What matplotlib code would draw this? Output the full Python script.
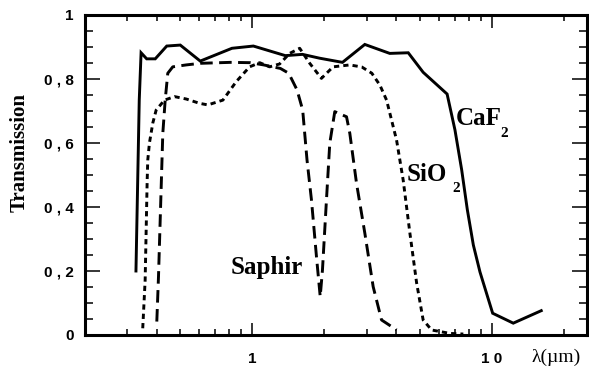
import matplotlib
matplotlib.use("Agg")
import matplotlib.pyplot as plt
from matplotlib.ticker import FixedLocator, NullFormatter, LogLocator, MultipleLocator

# ---- data (wavelength in µm, transmission) ----
caf2_wl = [0.3265, 0.337, 0.343, 0.362, 0.393, 0.439, 0.500, 0.606, 0.822, 1.01,
           1.374, 1.62, 1.91, 2.38, 2.95, 3.75, 4.48, 5.17, 6.51, 7.02, 7.49,
           7.91, 8.38, 8.93, 10.09, 12.3, 16.1]
caf2_t = [0.200, 0.734, 0.882, 0.863, 0.863, 0.903, 0.906, 0.856, 0.896, 0.903,
          0.873, 0.877, 0.865, 0.852, 0.908, 0.880, 0.882, 0.821, 0.753, 0.641, 0.516,
          0.391, 0.281, 0.197, 0.068, 0.037, 0.076]

sio2_wl = [0.3485, 0.3567, 0.3637, 0.3658, 0.3717, 0.3838, 0.3965, 0.4296, 0.473,
           0.5294, 0.6017, 0.652, 0.7534, 0.857, 0.974, 1.073, 1.181, 1.30, 1.432,
           1.577, 1.737, 1.944, 2.174, 2.553, 2.866, 3.156, 3.41, 3.637, 4.004,
           4.267, 4.55, 4.855, 5.17, 5.61, 6.69, 7.61]
sio2_t = [0.021, 0.172, 0.484, 0.547, 0.600, 0.662, 0.703, 0.734, 0.745,
          0.7375, 0.724, 0.719, 0.734, 0.792, 0.838, 0.851, 0.838, 0.847, 0.880,
          0.896, 0.849, 0.802, 0.838, 0.844, 0.8375, 0.818, 0.781, 0.734, 0.609,
          0.484, 0.319, 0.163, 0.047, 0.0156, 0.005, 0.003]

saphir_wl = [0.399, 0.4055, 0.4146, 0.4227, 0.4325, 0.4434, 0.4652, 0.5295, 0.606,
             0.809, 0.981, 1.115, 1.31, 1.419, 1.537, 1.623, 1.692, 1.766, 1.853,
             1.921, 1.963, 2.04, 2.106, 2.21, 2.474, 2.554, 2.724, 2.951, 3.197,
             3.465, 4.004]
saphir_t = [0.042, 0.182, 0.422, 0.630, 0.734, 0.818, 0.838, 0.844, 0.849,
            0.852, 0.851, 0.844, 0.833, 0.818, 0.766, 0.703, 0.547, 0.422, 0.245,
            0.120, 0.203, 0.422, 0.599, 0.698, 0.682, 0.630, 0.474, 0.318, 0.151,
            0.047, 0.016]

x_major = [1, 10]
x_major_labels = ["1", "1 0"]
y_major = [0, 0.2, 0.4, 0.6, 0.8, 1.0]
y_major_labels = ["0", "0 , 2", "0 , 4", "0 , 6", "0 , 8", "1"]

fig = plt.figure(figsize=(5.89, 3.76), dpi=100)
ax = fig.add_axes([85/589, 41/376, 502/589, 320/376])

lw = 2.1
ax.plot(caf2_wl, caf2_t, color="black", lw=lw, solid_joinstyle="miter")
ax.plot(sio2_wl, sio2_t, color="black", lw=lw, linestyle=(0, (1.8, 1.4)))
ax.plot(saphir_wl, saphir_t, color="black", lw=lw, linestyle=(0, (4.3, 2.2)))

ax.set_xscale("log")
ax.set_xlim(0.2, 25)
ax.set_ylim(0, 1)

ax.xaxis.set_major_locator(FixedLocator(x_major))
ax.set_xticklabels(x_major_labels)
ax.xaxis.set_minor_locator(LogLocator(base=10, subs=[2, 3, 4, 5, 6, 7, 8, 9]))
ax.xaxis.set_minor_formatter(NullFormatter())
ax.yaxis.set_major_locator(FixedLocator(y_major))
ax.set_yticklabels(y_major_labels)
ax.yaxis.set_minor_locator(MultipleLocator(0.05))

for sp in ax.spines.values():
    sp.set_linewidth(2.2)

ax.tick_params(which="both", direction="in", top=True, right=True, width=1.1, colors="black")
ax.tick_params(axis="x", which="major", length=9, pad=12)
ax.tick_params(axis="x", which="minor", length=4.5)
ax.tick_params(axis="y", which="major", length=11, pad=8)
ax.tick_params(axis="y", which="minor", length=5.5)

for lab in ax.get_xticklabels() + ax.get_yticklabels():
    lab.set_fontfamily("Liberation Sans")
    lab.set_fontweight("bold")
    lab.set_fontsize(11)

serif = "Liberation Serif"
ax.text(1.148, 0.19, "Saphir", family=serif, weight="bold", fontsize=18, ha="center", va="baseline")
ax.text(7.09, 0.656, "CaF", family=serif, weight="bold", fontsize=18, ha="left", va="baseline")
ax.text(10.88, 0.619, "2", family=serif, weight="bold", fontsize=11, ha="left", va="baseline")
ax.text(4.41, 0.481, "SiO", family=serif, weight="bold", fontsize=18, ha="left", va="baseline")
ax.text(6.82, 0.447, "2", family=serif, weight="bold", fontsize=11, ha="left", va="baseline")

fig.text(20/589, 1 - 152/376, "Transmission", family=serif, weight="bold", fontsize=15,
         rotation=90, ha="center", va="center")
fig.text(531/589, 1 - 357/376, "λ(µm)", family=serif, fontsize=14, ha="left", va="center")

fig.savefig("out.png", dpi=100)
